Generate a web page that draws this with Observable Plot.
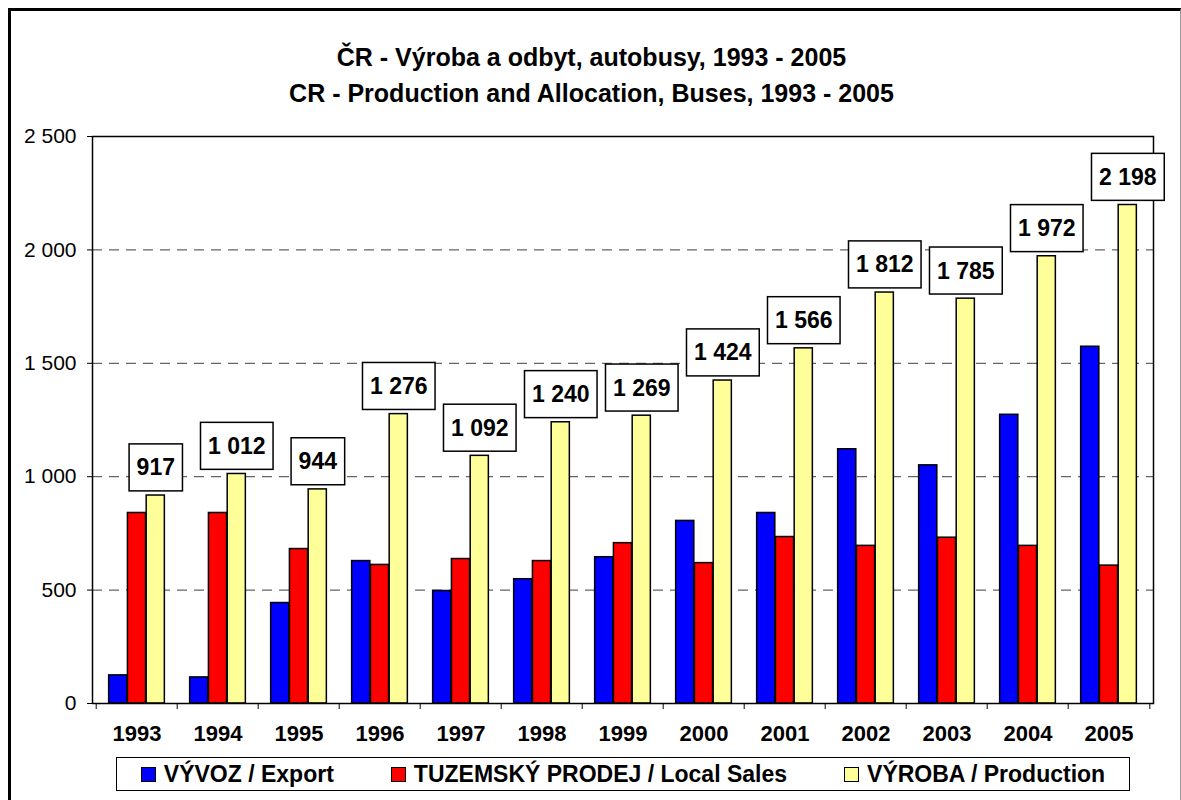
<!DOCTYPE html>
<html>
<head>
<meta charset="utf-8">
<script src="https://cdn.jsdelivr.net/npm/d3@7"></script>
<script src="https://cdn.jsdelivr.net/npm/@observablehq/plot@0.6"></script>
<style>
  html, body { margin: 0; padding: 0; background: #fff; }
  #root { position: relative; width: 1181px; height: 800px; overflow: hidden; background: #fff;
          font-family: "Liberation Sans", Arial, Helvetica, sans-serif; color: #000; }
  #frame { position: absolute; left: 8px; top: 8px; right: 0; bottom: -4px; box-sizing: border-box;
           border-left: 3px solid #000; border-top: 3px solid #000; border-right: 1px solid #9a9a9a; }
  #title { position: absolute; left: 8px; right: 0; top: 39px; text-align: center;
           font-weight: bold; font-size: 25px; line-height: 36px; padding-right: 6px; }
  #plot { position: absolute; left: 0; top: 110px; }
  #legend { position: absolute; left: 116px; top: 757px; width: 1014px; height: 34px; box-sizing: border-box;
            border: 1.5px solid #000; background: #fff; display: flex; align-items: center; justify-content: center;
            gap: 57px; font-weight: bold; font-size: 23px; }
  .item { display: flex; align-items: center; gap: 8px; white-space: nowrap; }
  .sw { width: 15px; height: 15px; box-sizing: border-box; border: 1.5px solid #000; display: inline-block; }
</style>
</head>
<body>
<div id="root">
  <div id="frame"></div>
  <div id="title"></div>
  <div id="plot"></div>
  <div id="legend"></div>
</div>
<script>
// ---- data ----
const titleLines = ["ČR - Výroba a odbyt, autobusy, 1993 - 2005",
                    "CR - Production and Allocation, Buses, 1993 - 2005"];
const years = ["1993","1994","1995","1996","1997","1998","1999","2000","2001","2002","2003","2004","2005"];
const exportVals     = [124, 115, 443, 628, 496, 548, 645, 805, 840, 1121, 1050, 1273, 1573];
const localVals      = [840, 840, 681, 611, 637, 628, 707, 619, 734, 695, 731, 695, 608];
const productionVals = [917, 1012, 944, 1276, 1092, 1240, 1269, 1424, 1566, 1812, 1785, 1972, 2198];
const seriesNames  = ["VÝVOZ / Export", "TUZEMSKÝ PRODEJ / Local Sales", "VÝROBA / Production"];
const seriesColors = ["#0000ff", "#ff0000", "#ffff99"];
const yTicks = [0, 500, 1000, 1500, 2000, 2500];
const gridValues = [500, 1000, 1500, 2000];

// ---- build ----
document.getElementById("title").innerHTML = titleLines.map(t => `<div>${t}</div>`).join("");

const rows = years.map((y, i) => ({year: y, exp: exportVals[i], loc: localVals[i], prod: productionVals[i]}));
const fmt = d3.formatLocale({decimal: ",", thousands: " ", grouping: [3], currency: ["", ""]}).format(",d");

const W = 1181, H = 640, ML = 92, MR = 28, MT = 26, MB = 47;
const bw = (W - ML - MR) / years.length;
const group = bw * 0.69;
const barW = group / 3;
const lead = (bw - group) / 2;
const barStyle = {stroke: "#000", strokeWidth: 1.5};

const chart = Plot.plot({
  width: W, height: H,
  marginLeft: ML, marginRight: MR, marginTop: MT, marginBottom: MB,
  style: {fontFamily: "'Liberation Sans', Arial, sans-serif", background: "transparent", overflow: "visible", color: "#000"},
  x: {type: "band", domain: years, padding: 0, label: null},
  y: {domain: [0, 2500], label: null},
  marks: [
    Plot.ruleY(gridValues, {stroke: "#666", strokeDasharray: "10,7", strokeWidth: 1.3}),
    Plot.barY(rows, {x: "year", y: "exp", fill: seriesColors[0], ...barStyle, insetLeft: lead, insetRight: bw - lead - barW}),
    Plot.barY(rows, {x: "year", y: "loc", fill: seriesColors[1], ...barStyle, insetLeft: lead + barW, insetRight: lead + barW}),
    Plot.barY(rows, {x: "year", y: "prod", fill: seriesColors[2], ...barStyle, insetLeft: lead + 2 * barW, insetRight: lead}),
    Plot.frame({stroke: "#000", strokeWidth: 1.5}),
    Plot.axisY({ticks: yTicks, tickSize: 5, tickPadding: 11, tickFormat: fmt, fontSize: 21, label: null}),
    Plot.axisX({tickSize: 0, tickPadding: 22, fontSize: 22, fontWeight: "bold", label: null}),
    Plot.axisX({tickSize: 6, tickFormat: () => "", dx: -bw / 2, label: null}),
    Plot.axisX([years[years.length - 1]], {tickSize: 6, tickFormat: () => "", dx: bw / 2, label: null}),
    Plot.text(rows, {x: "year", y: "prod", text: d => fmt(d.prod), dx: barW, dy: -27.5,
                     fontSize: 23, fontWeight: "bold", lineAnchor: "middle", fill: "#000"})
  ]
});
document.getElementById("plot").appendChild(chart);

// white boxes with black border behind the value labels
const ns = "http://www.w3.org/2000/svg";
chart.querySelectorAll('g[aria-label="text"] text').forEach(t => {
  const b = t.getBBox();
  const r = document.createElementNS(ns, "rect");
  const px = 7.5, py = 10.5;
  r.setAttribute("x", b.x - px);
  r.setAttribute("y", b.y - py);
  r.setAttribute("width", b.width + 2 * px);
  r.setAttribute("height", b.height + 2 * py);
  r.setAttribute("fill", "#fff");
  r.setAttribute("stroke", "#000");
  r.setAttribute("stroke-width", 1.5);
  const tr = t.getAttribute("transform");
  if (tr) r.setAttribute("transform", tr);
  t.parentNode.insertBefore(r, t);
});

// legend
document.getElementById("legend").innerHTML = seriesNames.map((n, i) =>
  `<span class="item"><span class="sw" style="background:${seriesColors[i]}"></span>${n}</span>`).join("");
</script>
</body>
</html>
